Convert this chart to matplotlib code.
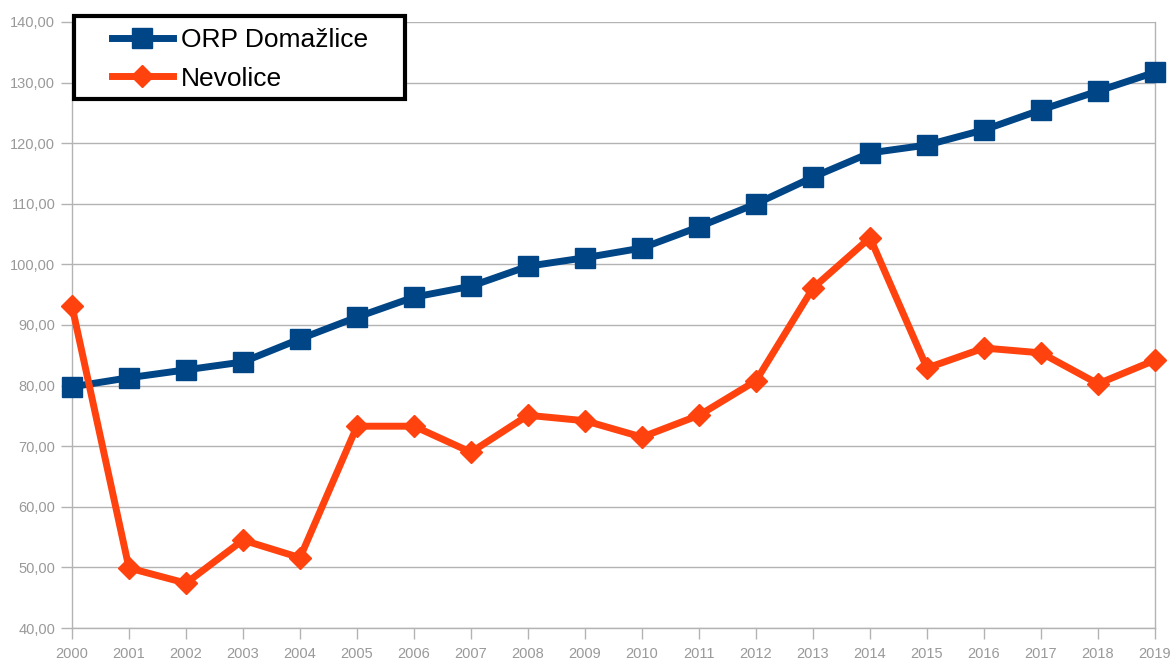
import matplotlib.pyplot as plt
from matplotlib.patches import Rectangle
from matplotlib.ticker import FuncFormatter

plt.rcParams['font.family'] = ['Liberation Sans', 'DejaVu Sans']

# -----------------------
# Data
# -----------------------
years = list(range(2000, 2020))
orp_domazlice = [79.8, 81.3, 82.6, 83.9, 87.7, 91.3, 94.6, 96.4, 99.7, 101.1,
                 102.7, 106.2, 110.0, 114.4, 118.4, 119.7, 122.2, 125.5, 128.6, 131.7]
nevolice = [93.1, 49.9, 47.4, 54.5, 51.6, 73.3, 73.3, 69.0, 75.1, 74.2,
            71.5, 75.1, 80.8, 96.1, 104.4, 82.9, 86.2, 85.4, 80.3, 84.2]

BLUE = '#004586'
ORANGE = '#ff420e'
GRID = '#b3b3b3'
LABEL = '#999999'
W, H = 1174, 664

# -----------------------
# Plot
# -----------------------
fig = plt.figure(figsize=(W / 100, H / 100), dpi=100)
ax = fig.add_axes([72 / W, 1 - 628 / H, (1155 - 72) / W, (628 - 22) / H])

ax.plot(years, orp_domazlice, color=BLUE, lw=5, marker='s', ms=14,
        label='ORP Domažlice', clip_on=False, zorder=3)
ax.plot(years, nevolice, color=ORANGE, lw=5, marker='D', ms=11,
        label='Nevolice', clip_on=False, zorder=3)

ax.set_xlim(2000, 2019)
ax.set_ylim(40, 140)
ax.set_xticks(years)
ax.set_yticks(range(40, 141, 10))
ax.yaxis.set_major_formatter(FuncFormatter(lambda v, p: f'{v:.2f}'.replace('.', ',')))

ax.grid(axis='y', color=GRID, lw=1)
ax.set_axisbelow(True)
for s in ax.spines.values():
    s.set_color(GRID)
    s.set_linewidth(1)
ax.spines['top'].set_visible(False)
ax.tick_params(axis='both', colors=GRID, length=8, width=1, labelcolor=LABEL, labelsize=10.5)
ax.tick_params(axis='y', pad=4)
ax.tick_params(axis='x', pad=6)

# legend box drawn separately, legend entries placed inside it
fig.patches.append(Rectangle((74 / W, 1 - 99 / H), (405 - 74) / W, (99 - 16) / H,
                             transform=fig.transFigure, facecolor='white',
                             edgecolor='black', lw=3, zorder=5))
leg = fig.legend(loc='upper left', bbox_to_anchor=(112 / W, 1 - 28 / H),
                 fontsize=19, frameon=False, handlelength=2.3,
                 borderpad=0, labelspacing=0.55, handletextpad=0.3,
                 borderaxespad=0)
leg.set_zorder(6)

fig.savefig('out.png', dpi=100)
